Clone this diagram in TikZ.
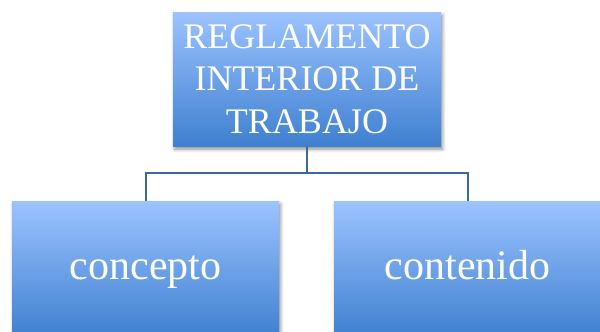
\documentclass[tikz,border=0pt]{standalone}
\usepackage{fontspec}
\setmainfont{Liberation Serif}
\usetikzlibrary{shadows.blur}
\definecolor{boxtop}{HTML}{9CC3FF}
\definecolor{boxmid}{HTML}{88B4F6}
\definecolor{boxbot}{HTML}{3F80D0}
\definecolor{linkc}{HTML}{3E6896}
\tikzset{
  orgbox/.style={rectangle, draw=none, inner sep=0pt, text=white,
    top color=boxtop, middle color=boxmid, bottom color=boxbot,
    blur shadow={shadow xshift=1.5pt, shadow yshift=-3pt, shadow blur radius=3.5pt, shadow opacity=45},
    align=center},
  childbox/.style={orgbox, minimum width=267pt, minimum height=136pt,
    font=\fontsize{42}{48}\selectfont, text height=30pt, text depth=9pt},
  link/.style={draw=linkc, line width=2pt}
}
\begin{document}
\begin{tikzpicture}[x=1pt,y=-1pt]
\useasboundingbox (0,0) rectangle (600,332);
\node[orgbox, minimum width=268pt, minimum height=134pt,
  font=\fontsize{36}{42.5}\selectfont] (top) at (307,79) {REGLAMENTO\\INTERIOR DE\\TRABAJO};
\node[childbox] (left) at (145.5,269) {concepto};
\node[childbox] (right) at (467.5,269) {contenido};
\coordinate (bus) at (307,173);
\draw[link] (top.south) -- (bus);
\draw[link] (bus) -| (left.north);
\draw[link] (bus) -| (right.north);
\end{tikzpicture}
\end{document}
